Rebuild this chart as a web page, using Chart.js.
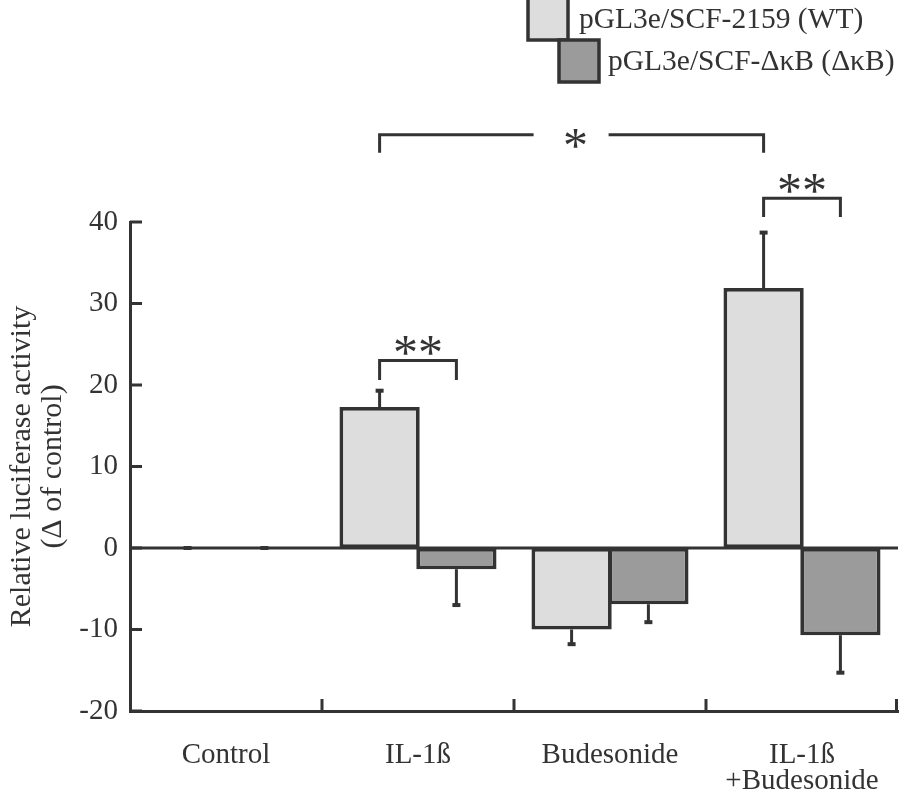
<!DOCTYPE html>
<html>
<head>
<meta charset="utf-8">
<script src="https://cdn.jsdelivr.net/npm/chart.js@4/dist/chart.umd.min.js"></script>
<style>
html,body{margin:0;padding:0;background:#fff;}
#wrap{width:900px;height:792px;position:relative;}
</style>
</head>
<body>
<div id="wrap"><canvas id="c" width="900" height="792"></canvas></div>
<script>
// ---- data ----
const categories = ['Control', 'IL-1ß', 'Budesonide', ['IL-1ß', '+Budesonide']];
const seriesNames = ['pGL3e/SCF-2159 (WT)', 'pGL3e/SCF-\u0394\u03BAB (\u0394\u03BAB)'];
const wtValues = [0, 17.3, -10.0, 31.9];
const wtErrors = [0, 2.0, 1.8, 6.8];
const dkbValues = [0, -2.6, -6.9, -10.7];
const dkbErrors = [0, 4.4, 2.2, 4.6];
const yTicks = [-20, -10, 0, 10, 20, 30, 40];
const yTitle = ['Relative luciferase activity', '(\u0394 of control)'];
// significance brackets: [category, dataset] endpoints, label, bracket level and leg end (data units)
const sigLabels = ['**', '*', '**'];
const sigFrom = [[1, 0], [1, 0], [3, 0]];
const sigTo = [[1, 1], [3, 0], [3, 1]];
const sigLevel = [23.0, 50.7, 42.9];
const sigLegEnd = [20.6, 48.5, 40.6];
const sigLabelLevel = [24.7, 50.0, 44.5];

const INK = '#333333';
const FONT = '"Liberation Serif", "Times New Roman", serif';

const decorPlugin = {
  id: 'decor',
  afterDatasetsDraw(chart) {
    const ctx = chart.ctx;
    const x = chart.scales.x, y = chart.scales.y;
    const area = chart.chartArea;
    ctx.save();
    ctx.strokeStyle = INK;
    ctx.fillStyle = INK;
    // zero line
    ctx.lineWidth = 3;
    ctx.beginPath();
    ctx.moveTo(area.left, y.getPixelForValue(0));
    ctx.lineTo(area.right, y.getPixelForValue(0));
    ctx.stroke();
    // y ticks (inward)
    yTicks.forEach(v => {
      const py = y.getPixelForValue(v);
      ctx.beginPath();
      ctx.moveTo(area.left, py);
      ctx.lineTo(area.left + 12, py);
      ctx.stroke();
    });
    // x ticks at category boundaries (inward)
    const n = categories.length;
    for (let i = 1; i <= n; i++) {
      const px = (x.getPixelForValue(i - 1) + x.getPixelForValue(i)) / 2;
      const bx = i === n ? area.right - 1.5 : px;
      ctx.beginPath();
      ctx.moveTo(bx, area.bottom);
      ctx.lineTo(bx, area.bottom - 12);
      ctx.stroke();
    }
    // error bars
    const errs = [wtErrors, dkbErrors];
    chart.data.datasets.forEach((ds, di) => {
      const meta = chart.getDatasetMeta(di);
      meta.data.forEach((bar, i) => {
        const v = ds.data[i];
        const e = errs[di][i];
        const dir = v < 0 ? -1 : 1;
        const p0 = y.getPixelForValue(v);
        const p1 = y.getPixelForValue(v + dir * e);
        ctx.lineWidth = 3;
        ctx.beginPath();
        ctx.moveTo(bar.x, p0);
        ctx.lineTo(bar.x, p1);
        ctx.stroke();
        ctx.lineWidth = 4;
        ctx.beginPath();
        ctx.moveTo(bar.x - 4, p1);
        ctx.lineTo(bar.x + 4, p1);
        ctx.stroke();
      });
    });
    // significance brackets
    ctx.lineWidth = 3;
    sigLabels.forEach((lab, k) => {
      const b1 = chart.getDatasetMeta(sigFrom[k][1]).data[sigFrom[k][0]];
      const b2 = chart.getDatasetMeta(sigTo[k][1]).data[sigTo[k][0]];
      const ly = y.getPixelForValue(sigLevel[k]);
      const le = y.getPixelForValue(sigLegEnd[k]);
      const lly = y.getPixelForValue(sigLabelLevel[k]);
      const mx = (b1.x + b2.x) / 2;
      ctx.font = '50px ' + FONT;
      ctx.textAlign = 'center';
      ctx.textBaseline = 'middle';
      if (lab === '*') {
        ctx.beginPath();
        ctx.moveTo(b1.x, le); ctx.lineTo(b1.x, ly); ctx.lineTo(mx - 38, ly);
        ctx.moveTo(mx + 37, ly); ctx.lineTo(b2.x, ly); ctx.lineTo(b2.x, le);
        ctx.stroke();
        ctx.fillText(lab, mx + 4, lly + 8);
      } else {
        ctx.beginPath();
        ctx.moveTo(b1.x, le); ctx.lineTo(b1.x, ly); ctx.lineTo(b2.x, ly); ctx.lineTo(b2.x, le);
        ctx.stroke();
        ctx.fillText(lab, mx, lly + 9);
      }
    });
    // y title
    ctx.font = '30px ' + FONT;
    ctx.textAlign = 'center';
    ctx.textBaseline = 'middle';
    const cy = (area.top + area.bottom) / 2;
    [22, 53].forEach((tx, i) => {
      ctx.save();
      ctx.translate(tx, cy);
      ctx.rotate(-Math.PI / 2);
      ctx.fillText(yTitle[i], 0, 0);
      ctx.restore();
    });
    // legend
    const fills = chart.data.datasets.map(d => d.backgroundColor);
    const boxes = [[528, -2], [559, 40]];
    const texts = [[579, 20], [608, 62]];
    ctx.lineWidth = 3.5;
    seriesNames.forEach((nm, i) => {
      ctx.fillStyle = fills[i];
      ctx.fillRect(boxes[i][0], boxes[i][1], 40, 42);
      ctx.strokeStyle = INK;
      ctx.strokeRect(boxes[i][0], boxes[i][1], 40, 42);
      ctx.fillStyle = INK;
      ctx.font = '29.5px ' + FONT;
      ctx.textAlign = 'left';
      ctx.textBaseline = 'middle';
      ctx.fillText(nm, texts[i][0], texts[i][1]);
    });
    ctx.restore();
  }
};

new Chart(document.getElementById('c'), {
  type: 'bar',
  data: {
    labels: categories,
    datasets: [
      { label: seriesNames[0], data: wtValues, backgroundColor: '#dddddd', borderColor: INK, borderWidth: 3.8, borderSkipped: false },
      { label: seriesNames[1], data: dkbValues, backgroundColor: '#9b9b9b', borderColor: INK, borderWidth: 3.8, borderSkipped: false }
    ]
  },
  options: {
    responsive: false,
    animation: false,
    devicePixelRatio: 1,
    layout: { padding: { top: 222, right: 2, left: 0, bottom: 0 } },
    categoryPercentage: 0.8,
    barPercentage: 1.045,
    plugins: { legend: { display: false }, tooltip: { enabled: false } },
    scales: {
      x: {
        grid: { display: false, drawTicks: false },
        border: { display: true, color: INK, width: 3 },
        ticks: { color: INK, font: { family: FONT, size: 29, lineHeight: 0.88 }, padding: 32, maxRotation: 0, autoSkip: false },
        afterFit(s) { s.height = 81; s.paddingLeft = 0; s.paddingRight = 0; }
      },
      y: {
        min: -20, max: 40,
        afterBuildTicks(s) { s.ticks = yTicks.map(v => ({ value: v })); },
        grid: { display: false, drawTicks: false },
        border: { display: true, color: INK, width: 3 },
        ticks: { color: INK, font: { family: FONT, size: 29 }, padding: 12 },
        afterFit(s) { s.width = 130; }
      }
    }
  },
  plugins: [decorPlugin]
});
</script>
</body>
</html>
